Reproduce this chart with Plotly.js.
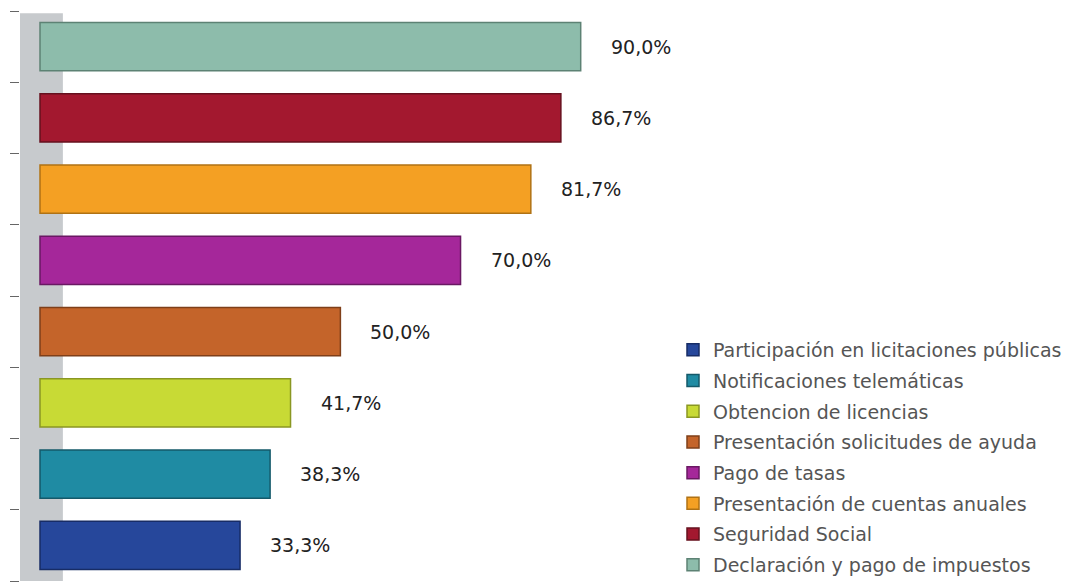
<!DOCTYPE html>
<html>
<head>
<meta charset="utf-8">
<script src="https://cdn.plot.ly/plotly-3.0.1.min.js"></script>
<style>html,body{margin:0;padding:0;background:#fff;}#chart{width:1080px;height:583px;}</style>
</head>
<body>
<div id="chart"></div>
<script>
// Categories, bottom bar first
const categories = [
  "Participación en licitaciones públicas",
  "Notificaciones telemáticas",
  "Obtencion de licencias",
  "Presentación solicitudes de ayuda",
  "Pago de tasas",
  "Presentación de cuentas anuales",
  "Seguridad Social",
  "Declaración y pago de impuestos"
];
const values = [33.3, 38.3, 41.7, 50.0, 70.0, 81.7, 86.7, 90.0];
const colors = ["#26479b", "#1f8ba3", "#c8da35", "#c4642a", "#a5279a", "#f4a023", "#a3182f", "#8dbcab"];
const edgeColors = ["#172c66", "#14596a", "#8a9722", "#7f3f19", "#6a1863", "#b07214", "#66101e", "#5d8274"];

function fmt(v) { return v.toFixed(1).replace(".", ",") + "%"; }

const traces = categories.map((c, i) => ({
  type: "bar",
  orientation: "h",
  name: c,
  legendgroup: "g" + i,
  x: [values[i]],
  y: [c],
  width: 0.68,
  marker: { color: colors[i], line: { color: edgeColors[i], width: 1.5 } },
  hoverinfo: "x+y"
}));

const annotations = categories.map((c, i) => ({
  x: values[i], y: c, xref: "x", yref: "y",
  text: fmt(values[i]), showarrow: false,
  xanchor: "left", xshift: 28,
  font: { family: "DejaVu Sans, sans-serif", size: 19, color: "#222" }
}));

const layout = {
  width: 1080, height: 583,
  margin: { l: 20, r: 420, t: 11, b: 2 },
  paper_bgcolor: "#fff", plot_bgcolor: "#fff",
  barmode: "overlay",
  showlegend: true,
  xaxis: { range: [-3.33, 103.2], visible: false, showgrid: false, zeroline: false, fixedrange: true },
  yaxis: {
    type: "category", categoryorder: "array", categoryarray: categories,
    showticklabels: false, ticks: "outside", tickson: "boundaries",
    ticklen: 9, tickcolor: "#666", tickwidth: 1,
    showline: false, showgrid: false, zeroline: false
  },
  shapes: [{
    type: "rect", xref: "paper", yref: "paper",
    x0: 0, x1: 0.067, y0: 0, y1: 0.996,
    fillcolor: "#c7cacd", line: { width: 0 }, layer: "below"
  }],
  annotations: annotations,
  legend: {
    xref: "container", yref: "container",
    x: 673 / 1080, xanchor: "left", y: 1 - 331 / 583, yanchor: "top",
    traceorder: "grouped", tracegroupgap: 3,
    font: { family: "DejaVu Sans, sans-serif", size: 19, color: "#555" },
    bgcolor: "rgba(0,0,0,0)"
  }
};

Plotly.newPlot("chart", traces, layout, { displayModeBar: false, staticPlot: true });
</script>
</body>
</html>
